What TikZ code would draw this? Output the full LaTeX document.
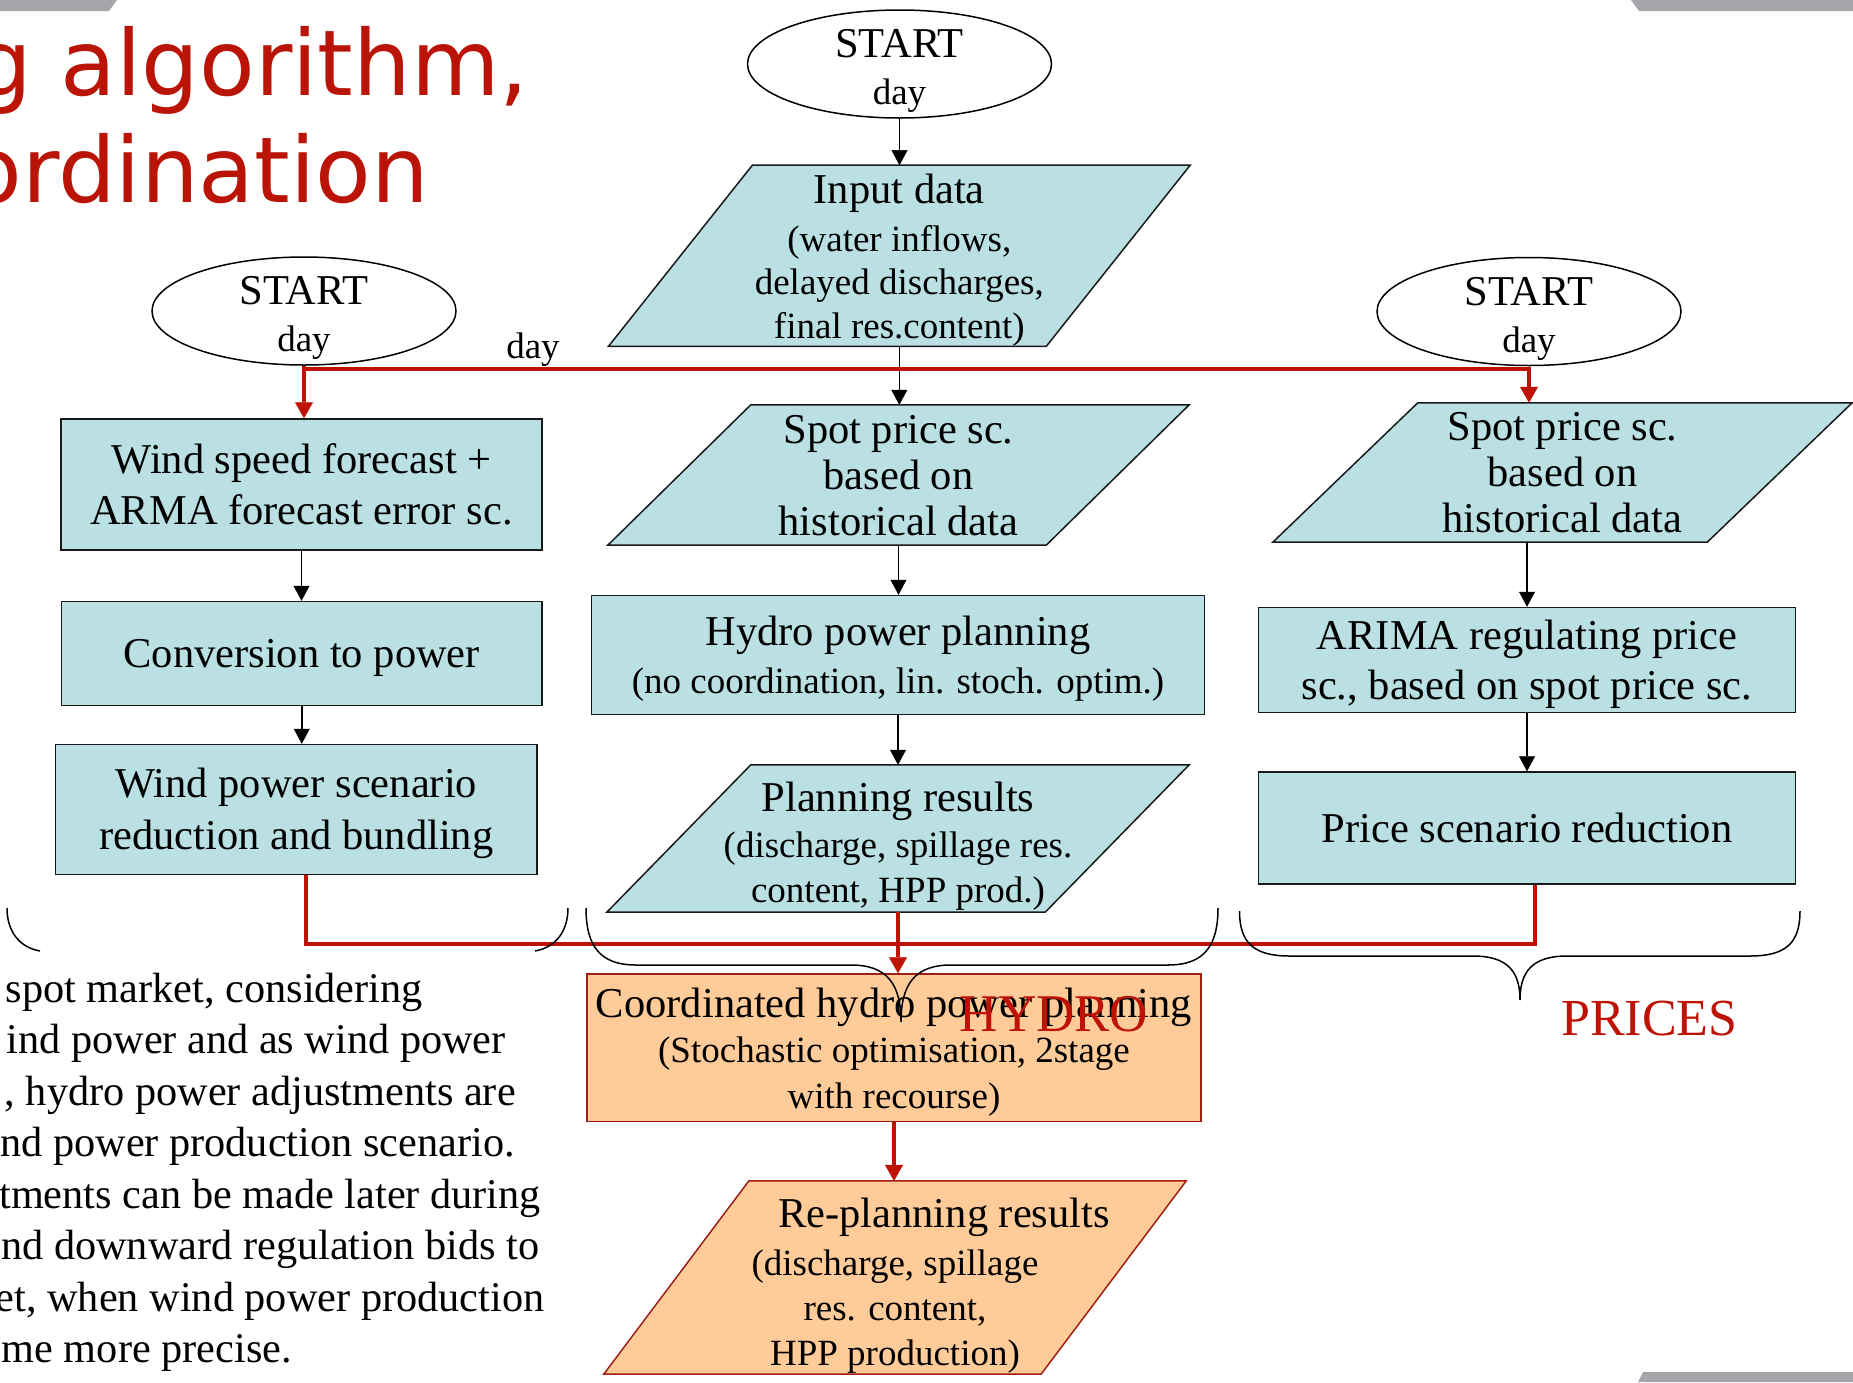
\documentclass[tikz,border=0pt]{standalone}
\usepackage{fontspec}
\setmainfont{Liberation Serif}
\newfontfamily\titlefont{DejaVu Sans}
\usetikzlibrary{shapes.geometric,arrows.meta,calc,backgrounds}

\definecolor{boxblue}{RGB}{186,224,227}
\definecolor{boxpeach}{RGB}{255,204,153}
\definecolor{peachline}{RGB}{160,30,20}
\definecolor{flowred}{RGB}{190,18,4}
\definecolor{titlered}{RGB}{185,20,5}
\definecolor{bargray}{RGB}{166,165,169}

% smaller text used for the second lines inside the boxes
\newcommand\subf{\fontsize{37}{45}\selectfont}
% invisible struts giving every text block the full ascent / descent of its font
\newcommand\tstrut{\rule{0pt}{0.891em}}
\newcommand\bstrut{\rule[-0.216em]{0pt}{0.216em}}
% outline of a slanted data box around a (bounding) node
\newcommand\paraoutline[4]{%
  \filldraw[fill=#3,draw=#4,line width=1.5pt]
    ($(#1.north west)+(#2,0)$) -- (#1.north east) --
    ($(#1.south east)-(#2,0)$) -- (#1.south west) -- cycle;}

\begin{document}
\begin{tikzpicture}[x=1pt,y=-1pt,
  lsk/.style={font=\fontsize{42.5}{#1}\selectfont},
  bluebox/.style={rectangle,draw=black!90,line width=1.5pt,fill=boxblue,inner sep=0pt,align=center},
  peachbox/.style={rectangle,draw=peachline,line width=1.5pt,fill=boxpeach,inner sep=0pt,align=center},
  parabox/.style={rectangle,inner sep=0pt,align=center},
  startnode/.style={ellipse,draw=black,line width=1.5pt,fill=white,minimum width=304pt,minimum height=108pt,inner sep=0pt},
  starttext/.style={inner sep=0pt,align=center,lsk=46.7},
  flow/.style={draw=black,line width=1.5pt,-{Triangle[length=15pt,width=16pt,line width=0.5pt]}},
  redflow/.style={draw=flowred,line width=4pt,-{Triangle[length=16pt,width=18pt,line width=0.5pt]}},
  redbus/.style={draw=flowred,line width=4pt},
  brace/.style={draw=black,line width=1.5pt},
  paratext/.style={anchor=base east,inner sep=0pt,font=\fontsize{42.3}{50}\selectfont},
  bigred/.style={anchor=base,inner sep=0pt,text=flowred},
]
\useasboundingbox (0,0) rectangle (1853,1382);
\clip (0,0) rectangle (1853,1382);

% slide decoration bars
\fill[bargray] (0,0) -- (117,0) -- (109,11) -- (0,11) -- cycle;
\fill[bargray] (1631,0) -- (1853,0) -- (1853,11) -- (1639,11) -- cycle;
\fill[bargray] (1643,1372) -- (1853,1372) -- (1853,1382) -- (1638,1382) -- cycle;

% slide title (continues beyond the left edge)
\node[anchor=base east,inner sep=0pt,text=titlered,font=\titlefont\fontsize{91}{100}\selectfont] (title1) at (529,95) {g algorithm,};
\node[anchor=base east,inner sep=0pt,text=titlered,font=\titlefont\fontsize{91}{100}\selectfont] (title2) at (429,202) {ordination};

% start terminals
\node[startnode] (sm) at (899.5,64) {};
\node[startnode] (ls) at (304,311) {};
\node[startnode] (rs) at (1529,311.5) {};
\node[starttext] (smt) at (sm.center) {\rule{0pt}{1em}START\\{\subf day\bstrut}};
\node[starttext] (lst) at (ls.center) {\rule{0pt}{1em}START\\{\subf day\bstrut}};
\node[starttext] (rst) at (rs.center) {\rule{0pt}{1em}START\\{\subf day\bstrut}};

% hydro column
\node[parabox,lsk=43.5,minimum width=581.4pt,minimum height=178.4pt] (inp) at (899.3,255.8)
  {\tstrut Input data\\[4.5pt]{\subf (water inflows,}\\{\subf delayed discharges,}\\{\subf final res.content)\bstrut}};
\node[parabox,lsk=46,minimum width=581pt,minimum height=140pt] (spm) at (898.5,475)
  {\tstrut Spot price sc.\\based on\\historical data\bstrut};
\node[bluebox,lsk=48,minimum width=613pt,minimum height=119pt] (hyd) at (898,655)
  {\tstrut Hydro power planning\\{\subf (no coordination, lin. stoch. optim.)\bstrut}};
\node[parabox,lsk=45,minimum width=582pt,minimum height=147pt] (plan) at (898,838.5)
  {\rule{0pt}{1.05em}Planning results\\[1pt]{\subf (discharge, spillage res.}\\{\subf content, HPP prod.)\bstrut}};
\node[peachbox,lsk=45.5,minimum width=614pt,minimum height=147.5pt] (coord) at (894,1047.75)
  {\tstrut Coordinated hydro power planning\\{\subf (Stochastic optimisation, 2stage}\\{\subf with recourse)\bstrut}};
\node[parabox,lsk=45,minimum width=582pt,minimum height=191pt] (repl) at (895,1277.5)
  {\rule{0pt}{1.1em}\hspace*{98pt}Re-planning results\\[3pt]{\subf (discharge, spillage}\\{\subf res. content,}\\{\subf HPP production)\bstrut}};

% wind column
\node[bluebox,lsk=51.3,minimum width=481pt,minimum height=131pt] (wind) at (301.5,484.5)
  {\tstrut Wind speed forecast +\\ARMA forecast error sc.\bstrut};
\node[bluebox,lsk=50,minimum width=480.5pt,minimum height=104pt] (conv) at (301.75,653.5)
  {\tstrut Conversion to power\bstrut};
\node[bluebox,lsk=52,minimum width=481.5pt,minimum height=130pt] (wpow) at (296.25,809.5)
  {\tstrut Wind power scenario\\reduction and bundling\bstrut};

% price column
\node[parabox,lsk=46,minimum width=579pt,minimum height=139pt] (spr) at (1562.5,472.5)
  {\tstrut Spot price sc.\\based on\\historical data\bstrut};
\node[bluebox,lsk=50.5,minimum width=537pt,minimum height=105pt] (arima) at (1527,660)
  {\tstrut ARIMA regulating price\\sc., based on spot price sc.\bstrut};
\node[bluebox,lsk=50,minimum width=537pt,minimum height=112pt] (price) at (1527,828)
  {\tstrut Price scenario reduction\bstrut};

% slanted data boxes behind their texts
\begin{scope}[on background layer]
  \paraoutline{inp}{144}{boxblue}{black!90}
  \paraoutline{spm}{143}{boxblue}{black!90}
  \paraoutline{spr}{145}{boxblue}{black!90}
  \paraoutline{plan}{144}{boxblue}{black!90}
  \paraoutline{repl}{145}{boxpeach}{peachline}
\end{scope}

% black flow arrows
\draw[flow] (sm.south) -- (sm.south |- inp.north);
\draw[flow] (inp.south) -- (inp.south |- spm.north);
\draw[flow] (spm.south) -- (spm.south |- hyd.north);
\draw[flow] (hyd.south) -- (hyd.south |- plan.north);
\draw[flow] (wind.south) -- (wind.south |- conv.north);
\draw[flow] (conv.south) -- (conv.south |- wpow.north);
\draw[flow] (spr.south -| arima.north) -- (arima.north);
\draw[flow] (arima.south) -- (price.north);

% red daily trigger line
\coordinate (busL) at ($(ls.south)+(0,3)$);
\draw[redflow] (ls.south) -- (ls.south |- wind.north);
\draw[redflow] (busL) -| (rs.south |- spr.north);
\node[anchor=base,inner sep=0pt,font=\subf] (daylbl) at (533,358) {day};

% red collecting line into the coordinated planning
\coordinate (busB) at (0,944);
\draw[redbus] ([xshift=9.75pt]wpow.south) |- ([xshift=8pt]price.south |- busB) -- ([xshift=8pt]price.south);
\draw[redflow] (plan.south) -- (plan.south |- coord.north);
\draw[redflow] (coord.south) -- (coord.south |- repl.north);

% group braces (only the ends of the left one show above the paragraph)
\draw[brace] (7,908) .. controls (7,930) and (18,947) .. (40,951);
\draw[brace] (568,908) .. controls (568,930) and (557,947) .. (535,951);
\draw[brace] (586,908) .. controls (586,946) and (600,965) .. (636,965) -- (851,965)
  .. controls (887,965) and (901,984) .. (901,1022)
  .. controls (901,984) and (915,965) .. (951,965) -- (1168,965)
  .. controls (1204,965) and (1218,946) .. (1218,908);
\draw[brace] (1239.5,911) .. controls (1239.5,943) and (1254,956) .. (1289.5,956) -- (1473,956)
  .. controls (1508,956) and (1520,972) .. (1520,1000)
  .. controls (1520,972) and (1532,956) .. (1567,956) -- (1750,956)
  .. controls (1786,956) and (1800,943) .. (1800,911);

\node[bigred,font=\fontsize{53}{60}\selectfont] (hydrolbl) at (1054,1031.7) {HYDRO};
\node[bigred,font=\fontsize{52}{60}\selectfont] (pricelbl) at (1649.5,1035) {PRICES};

% explanatory paragraph (continues beyond the left edge)
\node[paratext] (p1) at (423,1002) {spot market, considering};
\node[paratext] (p2) at (506,1053.5) {ind power and as wind power};
\node[paratext] (p3) at (516,1105) {, hydro power adjustments are};
\node[paratext] (p4) at (515,1156.5) {nd power production scenario.};
\node[paratext] (p5) at (541,1208) {tments can be made later during};
\node[paratext] (p6) at (539.5,1259.5) {nd downward regulation bids to};
\node[paratext] (p7) at (544.5,1311) {et, when wind power production};
\node[paratext] (p8) at (292,1362.5) {me more precise.};
\end{tikzpicture}
\end{document}
